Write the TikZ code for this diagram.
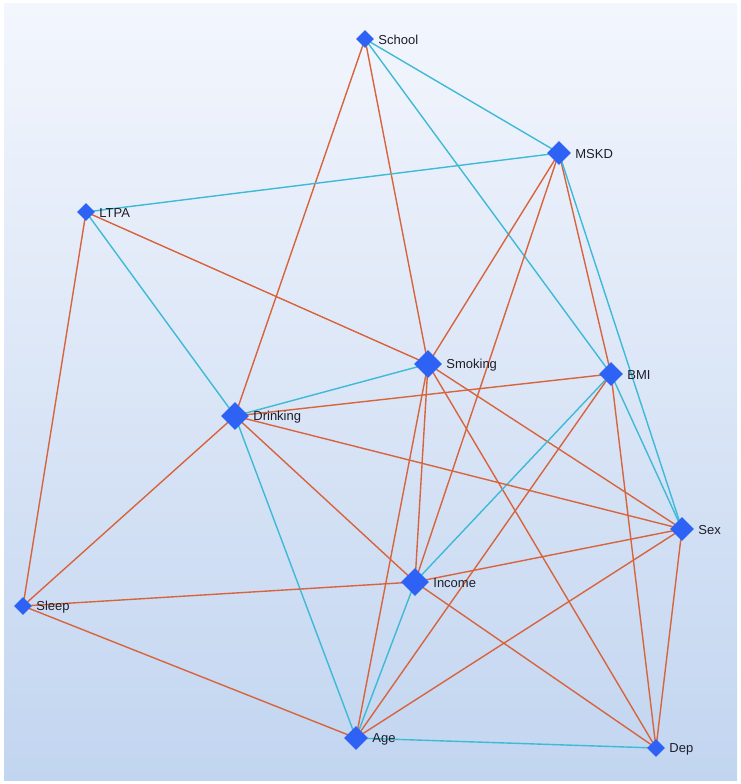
\documentclass[tikz,border=0pt]{standalone}
\usepackage{fontspec}
\setmainfont{Liberation Sans}
\usetikzlibrary{shapes.geometric}
\definecolor{nodeblue}{RGB}{45,98,245}
\definecolor{edgeor}{RGB}{216,100,62}
\definecolor{edgebl}{RGB}{62,186,214}
\definecolor{bgtop}{RGB}{243,246,253}
\definecolor{bgbot}{RGB}{194,213,240}
\definecolor{txt}{RGB}{30,30,40}
\tikzset{
  vbig/.style={diamond, fill=nodeblue, draw=none, inner sep=0pt, minimum width=28pt, minimum height=28pt},
  vmid/.style={diamond, fill=nodeblue, draw=none, inner sep=0pt, minimum width=24pt, minimum height=24pt},
  vsmall/.style={diamond, fill=nodeblue, draw=none, inner sep=0pt, minimum width=18pt, minimum height=18pt},
  every label/.style={inner sep=0pt, text=txt, font=\fontsize{13}{15}\selectfont, yshift=-1pt, xshift=4pt},
  posedge/.style={draw=edgeor, line width=1.4pt},
  negedge/.style={draw=edgebl, line width=1.4pt}
}
\begin{document}
\begin{tikzpicture}[x=1pt,y=-1pt]
\useasboundingbox (0,0) rectangle (741,784);
\fill[white] (0,0) rectangle (741,784);
\shade[top color=bgtop, bottom color=bgbot] (4,4) rectangle (737,780);

% coordinates of vertices
\coordinate (cSchool) at (365,39);
\coordinate (cMSKD) at (559,153);
\coordinate (cLTPA) at (86,212);
\coordinate (cSmoking) at (428,364);
\coordinate (cBMI) at (611,374);
\coordinate (cDrinking) at (235,416);
\coordinate (cSex) at (682,529);
\coordinate (cIncome) at (415,582);
\coordinate (cSleep) at (23,606);
\coordinate (cAge) at (356,738);
\coordinate (cDep) at (656,748);

% edges
\draw[negedge] (cSchool) -- (cMSKD);
\draw[negedge] (cSchool) -- (cBMI);
\draw[posedge] (cSchool) -- (cDrinking);
\draw[posedge] (cSchool) -- (cSmoking);
\draw[negedge] (cMSKD) -- (cLTPA);
\draw[posedge] (cMSKD) -- (cSmoking);
\draw[posedge] (cMSKD) -- (cIncome);
\draw[posedge] (cMSKD) -- (cBMI);
\draw[negedge] (cMSKD) -- (cSex);
\draw[posedge] (cLTPA) -- (cSmoking);
\draw[negedge] (cLTPA) -- (cDrinking);
\draw[posedge] (cLTPA) -- (cSleep);
\draw[negedge] (cSmoking) -- (cDrinking);
\draw[posedge] (cSmoking) -- (cIncome);
\draw[posedge] (cSmoking) -- (cAge);
\draw[posedge] (cSmoking) -- (cSex);
\draw[posedge] (cSmoking) -- (cDep);
\draw[posedge] (cBMI) -- (cDrinking);
\draw[negedge] (cBMI) -- (cIncome);
\draw[posedge] (cBMI) -- (cAge);
\draw[negedge] (cBMI) -- (cSex);
\draw[posedge] (cBMI) -- (cDep);
\draw[posedge] (cDrinking) -- (cSleep);
\draw[posedge] (cDrinking) -- (cIncome);
\draw[negedge] (cDrinking) -- (cAge);
\draw[posedge] (cDrinking) -- (cSex);
\draw[posedge] (cSex) -- (cIncome);
\draw[posedge] (cSex) -- (cAge);
\draw[posedge] (cSex) -- (cDep);
\draw[posedge] (cIncome) -- (cSleep);
\draw[negedge] (cIncome) -- (cAge);
\draw[posedge] (cIncome) -- (cDep);
\draw[posedge] (cSleep) -- (cAge);
\draw[negedge] (cAge) -- (cDep);

% vertices
\node[vsmall, label=east:School] (School) at (cSchool) {};
\node[vmid, label=east:MSKD] (MSKD) at (cMSKD) {};
\node[vsmall, label=east:LTPA] (LTPA) at (cLTPA) {};
\node[vbig, label=east:Smoking] (Smoking) at (cSmoking) {};
\node[vmid, label=east:BMI] (BMI) at (cBMI) {};
\node[vbig, label=east:Drinking] (Drinking) at (cDrinking) {};
\node[vmid, label=east:Sex] (Sex) at (cSex) {};
\node[vbig, label=east:Income] (Income) at (cIncome) {};
\node[vsmall, label=east:Sleep] (Sleep) at (cSleep) {};
\node[vmid, label=east:Age] (Age) at (cAge) {};
\node[vsmall, label=east:Dep] (Dep) at (cDep) {};
\end{tikzpicture}
\end{document}
